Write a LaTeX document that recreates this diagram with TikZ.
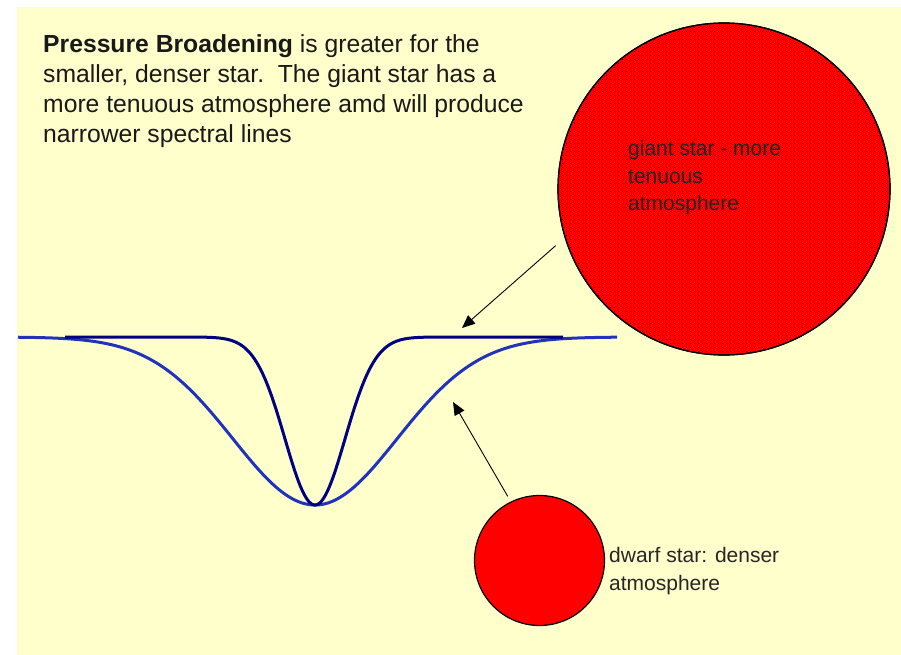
\documentclass[tikz,border=0pt]{standalone}
\usepackage{fontspec}
\setmainfont{Liberation Sans}
\usetikzlibrary{arrows.meta}
\definecolor{bgyellow}{HTML}{FFFFCC}
\definecolor{navyline}{HTML}{000080}
\definecolor{blueline}{HTML}{2233BB}
\definecolor{starred}{HTML}{FF0000}
\tikzset{
  starbase/.style={circle, draw=black, line width=1.2pt, fill=starred, inner sep=0pt},
  giantstar/.style={starbase, minimum size=332pt},
  dwarfstar/.style={starbase, minimum size=130pt},
  stardot/.style={fill=black},
  widecurve/.style={blueline, line width=3pt, line join=round},
  narrowcurve/.style={navyline, line width=3pt, line join=round},
  pointer/.style={black, line width=0.9pt, -{Triangle[length=13pt,width=11pt]}},
  label/.style={anchor=north west, inner sep=0pt, align=left, font=\fontsize{21}{27.5}\selectfont, text=black!85},
  titletext/.style={anchor=north west, inner sep=0pt, align=left, font=\fontsize{24.7}{30}\selectfont, text=black!90}
}
\begin{document}
\begin{tikzpicture}[x=1pt,y=-1pt]
\useasboundingbox (0,0) rectangle (901,655);
\fill[white] (0,0) rectangle (901,655);
\fill[bgyellow] (17,7) rectangle (901,655);

% spectral line profiles
\draw[widecurve] plot[domain=18:617, samples=240] (\x, {337+168*exp(-0.5*((\x-315)/82)*((\x-315)/82))});
\draw[narrowcurve] plot[domain=65:563, samples=240] (\x, {337+168*exp(-0.5*((\x-315)/30)*((\x-315)/30))});

% stars
\node[giantstar] (giant) at (724,189) {};
\begin{scope}
  \clip (724,189) circle[radius=165];
  \foreach \i in {0,...,83} {
    \foreach \j in {0,...,83} {
      \fill[stardot] ({558+4*\i},{23+4*\j}) rectangle ++(1,1);
    }
  }
\end{scope}
\draw[black, line width=1.2pt] (giant.center) circle[radius=166];
\node[dwarfstar] (dwarf) at (539.5,560.5) {};

% labels
\node[titletext] (title) at (43,34.5) {\textbf{Pressure Broadening} is greater for the\\smaller, denser star.\ \ The giant star has a\\more tenuous atmosphere amd will produce\\narrower spectral lines};
\node[label] (giantlabel) at (628,140.5) {giant star - more\\tenuous\\atmosphere};
\node[label] (dwarflabel) at (609,547.5) {dwarf star: denser\\atmosphere};

% pointers
\coordinate (tipgiant) at (462,328);
\coordinate (tipdwarf) at (453,402);
\draw[pointer, shorten <=12pt] (giant.197) -- (tipgiant);
\draw[pointer, shorten <=6pt] (dwarf.116) -- (tipdwarf);
\end{tikzpicture}
\end{document}
